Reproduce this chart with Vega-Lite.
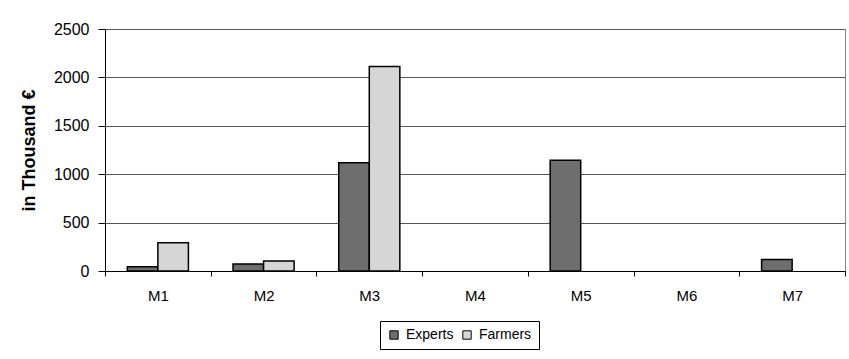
{
  "$schema": "https://vega.github.io/schema/vega-lite/v6.json",
  "width": 740,
  "height": 242,
  "autosize": {"type": "none"},
  "padding": {"left": 105, "top": 29, "right": 4, "bottom": 88},
  "background": "white",
  "config": {"view": {"stroke": "#888888", "strokeWidth": 1}, "font": "Liberation Sans"},
  "data": {
    "values": [
      {"measure": "M1", "group": "Experts", "value": 45},
      {"measure": "M1", "group": "Farmers", "value": 292},
      {"measure": "M2", "group": "Experts", "value": 72},
      {"measure": "M2", "group": "Farmers", "value": 103},
      {"measure": "M3", "group": "Experts", "value": 1117},
      {"measure": "M3", "group": "Farmers", "value": 2113},
      {"measure": "M5", "group": "Experts", "value": 1144},
      {"measure": "M7", "group": "Experts", "value": 120}
    ]
  },
  "mark": {"type": "bar", "stroke": "black", "strokeWidth": 1.5},
  "encoding": {
    "x": {
      "field": "measure",
      "type": "nominal",
      "scale": {"domain": ["M1", "M2", "M3", "M4", "M5", "M6", "M7"], "paddingInner": 0, "paddingOuter": 0},
      "axis": {
        "title": null,
        "labelAngle": 0,
        "tickBand": "extent",
        "domainColor": "black",
        "tickColor": "black",
        "tickSize": 5,
        "labelFontSize": 15,
        "labelColor": "black",
        "labelPadding": 12
      }
    },
    "xOffset": {
      "field": "group",
      "type": "nominal",
      "scale": {"domain": ["Experts", "Farmers"], "paddingInner": 0, "paddingOuter": 0.73}
    },
    "y": {
      "field": "value",
      "type": "quantitative",
      "scale": {"domain": [0, 2500]},
      "axis": {
        "title": "in Thousand €",
        "titleFontSize": 18,
        "titleFontWeight": "bold",
        "titleColor": "black",
        "titlePadding": 15,
        "values": [0, 500, 1000, 1500, 2000, 2500],
        "format": "d",
        "grid": true,
        "gridColor": "#555555",
        "domainColor": "black",
        "tickColor": "black",
        "tickSize": 7,
        "labelFontSize": 16,
        "labelColor": "black",
        "labelPadding": 9
      }
    },
    "fill": {
      "field": "group",
      "type": "nominal",
      "scale": {"domain": ["Experts", "Farmers"], "range": ["#6e6e6e", "#d6d6d6"]},
      "legend": {
        "title": null,
        "orient": "none",
        "legendX": 275,
        "legendY": 292,
        "direction": "horizontal",
        "strokeColor": "black",
        "padding": 7,
        "symbolType": "square",
        "symbolSize": 70,
        "symbolStrokeColor": "black",
        "symbolStrokeWidth": 1,
        "labelFontSize": 14,
        "labelColor": "black",
        "labelOffset": 5,
        "columnPadding": 6
      }
    }
  }
}
